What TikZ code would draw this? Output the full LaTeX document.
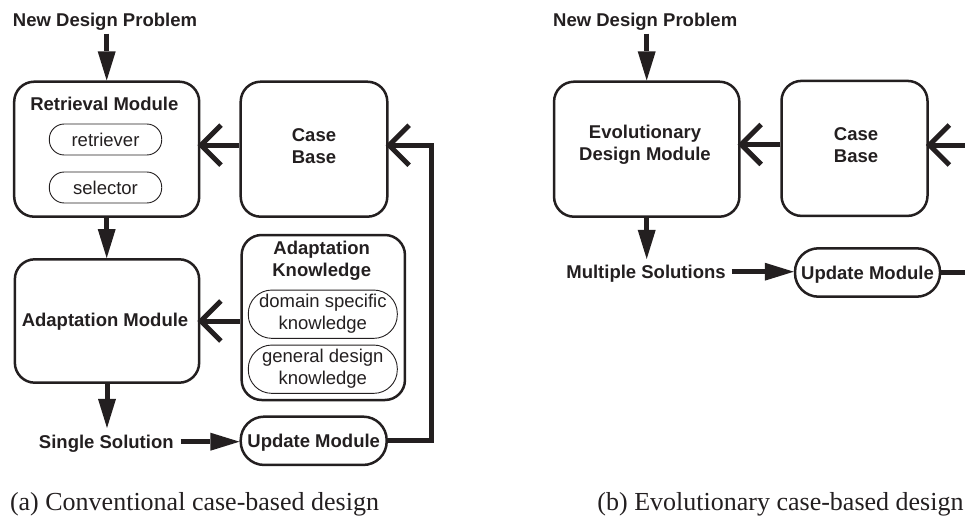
\documentclass[tikz,border=0pt]{standalone}
\usepackage{fontspec}
\setmainfont{Liberation Serif}
\newfontfamily\lblfont{Liberation Sans}
\usetikzlibrary{arrows.meta,calc}

\definecolor{ink}{RGB}{35,31,32}

\begin{document}
\begin{tikzpicture}[x=1pt, y=-1pt, color=ink,
  bsans/.style={font=\lblfont\bfseries\fontsize{18.5}{22}\selectfont},
  rsans/.style={font=\lblfont\fontsize{18.5}{22}\selectfont},
  oneline/.style={text height=13.5pt, text depth=0pt, inner sep=0pt},
  multiline/.style={align=center, inner sep=0pt},
  box/.style={draw, line width=2.5pt, rounded corners=20pt, inner sep=0pt},
  upill/.style={draw, line width=2.5pt, rounded corners=23.5pt, bsans, oneline},
  pill/.style={draw, line width=0.9pt, rounded corners=15pt, rsans, oneline},
  mpill/.style={draw, line width=0.9pt, rounded corners=23.5pt, rsans, multiline},
  fillarr/.style={line width=5pt, -{Triangle[length=29pt, width=18pt, line width=0pt]}},
  openarr/.style={line width=5pt, shorten >=-3pt, -{Straight Barb[length=20pt, width=40pt]}},
  caption/.style={font=\fontsize{26}{30}\selectfont, anchor=base, inner sep=0pt},
]
\useasboundingbox (0,0) rectangle (965,516);
\clip (0,0) rectangle (965,516);

% ---------- (a) conventional case-based design ----------
\node[box, minimum width=185pt, minimum height=135pt] (ret) at (106.7,149.2) {};
\node[bsans, oneline] (retT) at (104.3,104) {Retrieval Module};
\node[pill, minimum width=112.4pt, minimum height=31pt] (rtv) at (105.5,139.5) {retriever};
\node[pill, minimum width=112.4pt, minimum height=31pt] (sel) at (105.5,187.5) {selector};

\node[box, minimum width=146.6pt, minimum height=135pt] (cb) at (314,149.2) {};
\node[bsans, multiline] (cbT) at (314,146) {Case\\Base};

\node[box, minimum width=184.3pt, minimum height=123.4pt] (adapt) at (107,321) {};
\node[bsans, oneline] (adT) at (105,320) {Adaptation Module};

\node[box, minimum width=163.3pt, minimum height=165pt] (ak) at (323.3,317.5) {};
\node[bsans, multiline] (akT) at (321.7,261) {Adaptation\\Knowledge};
\node[mpill, minimum width=149pt, minimum height=48.3pt] (dsk) at (322.8,314.2) {domain specific\\knowledge};
\node[mpill, minimum width=149pt, minimum height=48.3pt] (gdk) at (322.8,369.2) {general design\\knowledge};

\node[upill, minimum width=146pt, minimum height=48.3pt] (um) at (313.7,440.8) {Update Module};

\node[bsans, oneline, outer sep=7pt] (ndp) at (105,20) {New Design Problem};
\node[bsans, oneline, outer sep=7pt] (ss) at (106.3,441.7) {Single Solution};

\draw[fillarr] (ret.north |- ndp.south) -- (ret.north);
\draw[fillarr] (ret.south) -- (ret.south |- adapt.north);
\draw[openarr] ([yshift=4pt]cb.west) -- ([yshift=4pt]cb.west -| ret.east);
\draw[openarr] (ak.west |- adapt.east) -- (adapt.east);
\draw[fillarr] (adapt.south) -- (adapt.south |- ss.north);
\draw[fillarr] (ss.east) -- (ss.east -| um.west);
\draw[openarr] (um.east) -- ++(43.3,0) |- ([yshift=4pt]cb.east);

\node[caption] (capA) at (194.5,510) {(a) Conventional case-based design};

% ---------- (b) evolutionary case-based design ----------
\node[box, minimum width=185.3pt, minimum height=135pt] (evo) at (646.7,149.2) {};
\node[bsans, multiline] (evoT) at (645,144.3) {Evolutionary\\Design Module};

\node[box, minimum width=146pt, minimum height=135pt] (cb2) at (854.5,148.4) {};
\node[bsans, multiline] (cb2T) at (856,145) {Case\\Base};

\node[bsans, oneline, outer sep=7pt] (ndp2) at (645.2,20) {New Design Problem};
\node[bsans, oneline, outer sep=6pt] (ms) at (646,271.7) {Multiple Solutions};
\node[upill, minimum width=145pt, minimum height=48.4pt] (um2) at (867.5,272.5) {Update Module};

\coordinate (inR) at (990,145);
\coordinate (outR) at (990,272.5);

\draw[fillarr] (evo.north |- ndp2.south) -- (evo.north);
\draw[openarr] ([yshift=4pt]cb2.west) -- ([yshift=4pt]cb2.west -| evo.east);
\draw[openarr] (inR) -- (inR -| cb2.east);
\draw[fillarr] (evo.south) -- (evo.south |- ms.north);
\draw[fillarr] (ms.east) -- (ms.east -| um2.west);
\draw[line width=5pt] (um2.east) -- (um2.east -| outR);

\node[caption] (capB) at (780.5,510) {(b) Evolutionary case-based design};
\end{tikzpicture}
\end{document}
